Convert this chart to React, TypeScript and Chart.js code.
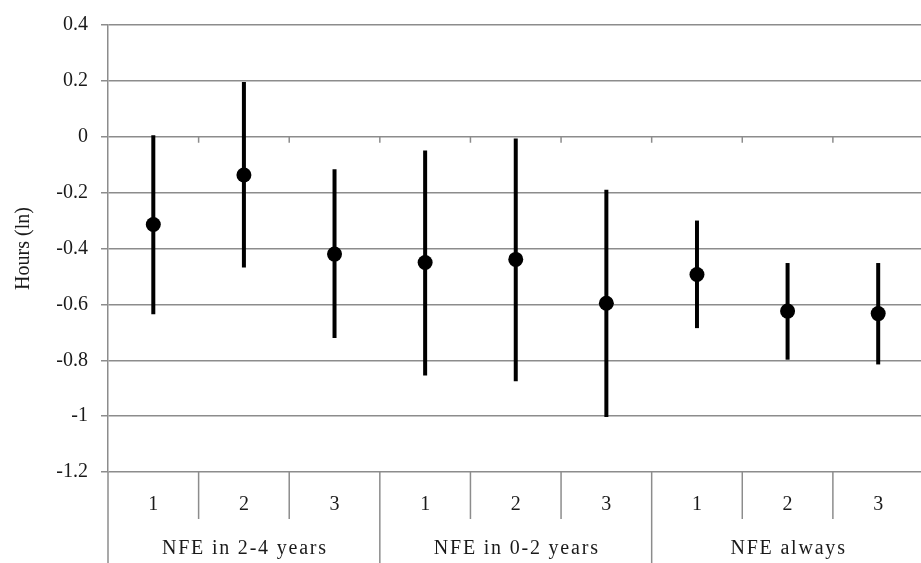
import React, { useEffect, useRef } from 'react';
import { Chart, registerables } from 'chart.js';

Chart.register(...registerables);

const categories = ['1', '2', '3', '1', '2', '3', '1', '2', '3'];
const groups = ['NFE in 2-4 years', 'NFE in 0-2 years', 'NFE always'];
const estimates = [-0.314, -0.137, -0.42, -0.45, -0.439, -0.596, -0.493, -0.624, -0.633];
const upper = [0.005, 0.196, -0.116, -0.049, -0.006, -0.19, -0.3, -0.452, -0.452];
const lower = [-0.635, -0.468, -0.72, -0.855, -0.875, -1.003, -0.685, -0.798, -0.815];
const yMin = -1.2;
const yMax = 0.4;
const yStep = 0.2;
const yTitle = 'Hours (ln)';

const FONT = '"Liberation Serif", "Times New Roman", serif';
const GRID = '#8c8c8c';
const TEXT = '#1a1a1a';

const decorPlugin = {
  id: 'decor',
  beforeDatasetsDraw(chart: any) {
    const { ctx, chartArea, scales } = chart;
    const x = scales.x;
    const y = scales.y;
    const c0 = x.getPixelForValue(0);
    const step = x.getPixelForValue(1) - c0;
    const b = (k: number) => c0 - step / 2 + k * step;
    const y0 = y.getPixelForValue(0);
    const bottom = chartArea.bottom;
    const H = chart.height;

    ctx.save();
    ctx.strokeStyle = GRID;
    ctx.lineWidth = 1.5;
    // small ticks at zero line
    for (let k = 1; k <= categories.length; k++) {
      ctx.beginPath();
      ctx.moveTo(b(k), y0);
      ctx.lineTo(b(k), y0 + 6);
      ctx.stroke();
    }
    // left axis extension
    ctx.beginPath();
    ctx.moveTo(chartArea.left, bottom);
    ctx.lineTo(chartArea.left, H);
    ctx.stroke();
    // separators
    for (let k = 1; k <= categories.length; k++) {
      const isGroup = k % 3 === 0;
      ctx.beginPath();
      ctx.moveTo(b(k), bottom);
      ctx.lineTo(b(k), isGroup ? H : bottom + 47);
      ctx.stroke();
    }
    // labels
    ctx.fillStyle = TEXT;
    ctx.font = `20px ${FONT}`;
    ctx.textAlign = 'center';
    ctx.textBaseline = 'middle';
    categories.forEach((lab, i) => {
      ctx.fillText(lab, x.getPixelForValue(i), bottom + 33);
    });
    try {
      (ctx as any).letterSpacing = '1.8px';
    } catch (e) {}
    groups.forEach((g, gi) => {
      const cx = x.getPixelForValue(gi * 3 + 1);
      ctx.fillText(g, cx + 1, bottom + 77);
    });
    try {
      (ctx as any).letterSpacing = '0px';
    } catch (e) {}

    // error bars
    ctx.strokeStyle = '#000';
    ctx.lineWidth = 4;
    ctx.lineCap = 'butt';
    estimates.forEach((_, i) => {
      const px = x.getPixelForValue(i);
      ctx.beginPath();
      ctx.moveTo(px, y.getPixelForValue(upper[i]));
      ctx.lineTo(px, y.getPixelForValue(lower[i]));
      ctx.stroke();
    });
    ctx.restore();
  },
};

export default function App() {
  const ref = useRef<HTMLCanvasElement | null>(null);

  useEffect(() => {
    if (!ref.current) return;
    const chart = new Chart(ref.current, {
      type: 'line',
      data: {
        labels: categories.map((c, i) => `${c}-${i}`),
        datasets: [
          {
            data: estimates,
            showLine: false,
            pointRadius: 7.5,
            pointHoverRadius: 7.5,
            pointBackgroundColor: '#000',
            pointBorderColor: '#000',
            pointBorderWidth: 0,
            borderColor: '#000',
          },
        ],
      },
      options: {
        animation: false,
        responsive: false,
        layout: { padding: { top: 20, left: 0, right: 0, bottom: 0 } },
        plugins: {
          legend: { display: false },
          tooltip: { enabled: false },
        },
        scales: {
          x: {
            type: 'category',
            offset: true,
            grid: { display: false },
            border: { display: false },
            ticks: { display: false },
            afterFit: (s: any) => {
              s.height = 91;
            },
          },
          y: {
            min: yMin,
            max: yMax,
            ticks: {
              stepSize: yStep,
              color: TEXT,
              font: { family: FONT, size: 20 },
              padding: 13,
              callback: (v: any) => String(Number(Number(v).toFixed(1))),
            },
            grid: {
              color: GRID,
              lineWidth: 1.5,
              tickLength: 7,
              drawTicks: true,
            },
            border: { color: GRID, width: 1.5 },
            title: {
              display: true,
              text: yTitle,
              color: TEXT,
              font: { family: FONT, size: 20 },
              padding: { top: 12, bottom: 0 },
            },
            afterFit: (s: any) => {
              s.width = 108;
            },
          },
        },
      },
      plugins: [decorPlugin],
    });
    return () => chart.destroy();
  }, []);

  return (
    <div style={{ position: 'fixed', left: 0, top: 0, width: 931, height: 563, background: '#fff' }}>
      <canvas ref={ref} width={931} height={563} style={{ display: 'block' }} />
    </div>
  );
}
